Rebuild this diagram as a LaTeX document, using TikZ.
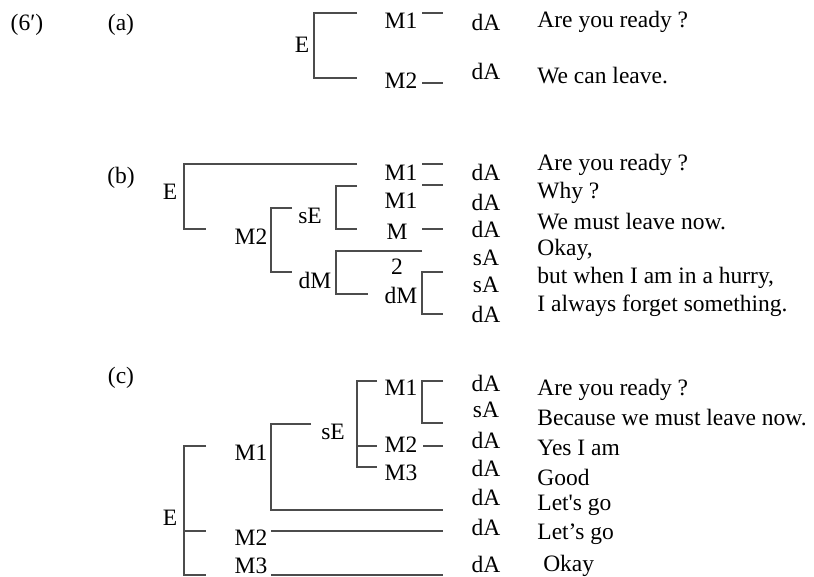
\documentclass[tikz,border=0pt]{standalone}
\usepackage{fontspec}
\setmainfont{Liberation Serif}[Ligatures=TeXOff]
\tikzset{
  lbl/.style={inner sep=0pt, font=\fontsize{11.75}{14}\selectfont},
  act/.style={lbl},
  utt/.style={lbl, anchor=west},
  brk/.style={line width=0.6pt, black!70},
}
\begin{document}
\begin{tikzpicture}[x=0.5pt, y=-0.5pt]
    \useasboundingbox (0,0) rectangle (814,577);
    \node[lbl] (ex) at (27,25) {(6′)};
    % (a) two moves under one exchange
    \begin{scope}
      \node[lbl] (a-tag) at (121,25) {(a)};
      \node[lbl] (a-E) at (302,45) {E};
      \node[lbl] (a-M1) at (401,21) {M1};
      \node[lbl] (a-M2) at (401,81) {M2};
      \draw[brk] (357,13) -- (314,13) -- (314,78) -- (357,78);
      \draw[brk] (422,13) -- (443,13);
      \draw[brk] (422,83) -- (443,83);
      \foreach \ya/\a/\yu/\u [count=\i] in {22/dA/22/Are you ready ?, 71/dA/76/We can leave.} {
        \node[act] (a-act\i) at (486,\ya) {\a};
        \node[utt] (a-utt\i) at (537,\yu) {\u};
      }
    \end{scope}
    % (b) embedded exchange and dependent moves
    \begin{scope}
      \node[lbl] (b-tag) at (121,178) {(b)};
      \node[lbl] (b-E) at (170,192) {E};
      \node[lbl] (b-M1) at (401,173) {M1};
      \node[lbl] (b-M2) at (251,237) {M2};
      \node[lbl] (b-sE) at (310,216) {sE};
      \node[lbl] (b-sM1) at (401,201) {M1};
      \node[lbl] (b-sM) at (397,232) {M};
      \node[lbl] (b-dM) at (315,280) {dM};
      \node[lbl] (b-two) at (397,267) {2};
      \node[lbl] (b-ddM) at (401,295) {dM};
      \draw[brk] (357,164) -- (184,164) -- (184,229) -- (206,229);
      \draw[brk] (422,164) -- (443,164);
      \draw[brk] (292,208) -- (271,208) -- (271,272) -- (292,272);
      \draw[brk] (357,186) -- (336,186) -- (336,229) -- (357,229);
      \draw[brk] (422,185) -- (443,185);
      \draw[brk] (422,229) -- (443,229);
      \draw[brk] (422,251) -- (336,251) -- (336,294) -- (368,294);
      \draw[brk] (443,272) -- (422,272) -- (422,314) -- (443,314);
      \foreach \ya/\a/\yu/\u [count=\i] in {172/dA/165/Are you ready ?, 202/dA/193/Why ?,
          229/dA/222/We must leave now., 258/sA/250/{Okay,},
          285/sA/278/{but when I am in a hurry,}, 314/dA/306/I always forget something.} {
        \node[act] (b-act\i) at (486,\ya) {\a};
        \node[utt] (b-utt\i) at (537,\yu) {\u};
      }
    \end{scope}
    % (c) three moves, the first one opening a sub-exchange
    \begin{scope}
      \node[lbl] (c-tag) at (121,378) {(c)};
      \node[lbl] (c-E) at (170,518) {E};
      \node[lbl] (c-M1) at (251,453) {M1};
      \node[lbl] (c-M2) at (251,538) {M2};
      \node[lbl] (c-M3) at (251,566) {M3};
      \node[lbl] (c-sE) at (333,432) {sE};
      \node[lbl] (c-sM1) at (401,388) {M1};
      \node[lbl] (c-sM2) at (401,445) {M2};
      \node[lbl] (c-sM3) at (401,473) {M3};
      \draw[brk] (206,446) -- (184,446) -- (184,575) -- (206,575);
      \draw[brk] (184,531) -- (206,531);
      \draw[brk] (311,424) -- (271,424) -- (271,510) -- (443,510);
      \draw[brk] (377,381) -- (357,381) -- (357,467) -- (377,467);
      \draw[brk] (357,446) -- (377,446);
      \draw[brk] (443,381) -- (422,381) -- (422,423) -- (443,423);
      \draw[brk] (423,446) -- (443,446);
      \draw[brk] (271,531) -- (443,531);
      \draw[brk] (271,575) -- (443,575);
      \foreach \ya/\a/\yu/\u [count=\i] in {383/dA/390/Are you ready ?, 410/sA/418/Because we must leave now.,
          440/dA/448/Yes I am, 468/dA/477/Good, 497/dA/505/Let's go,
          527/dA/534/Let’s go, 564/dA/566/\ Okay} {
        \node[act] (c-act\i) at (486,\ya) {\a};
        \node[utt] (c-utt\i) at (537,\yu) {\u};
      }
    \end{scope}
  \end{tikzpicture}
\end{document}
